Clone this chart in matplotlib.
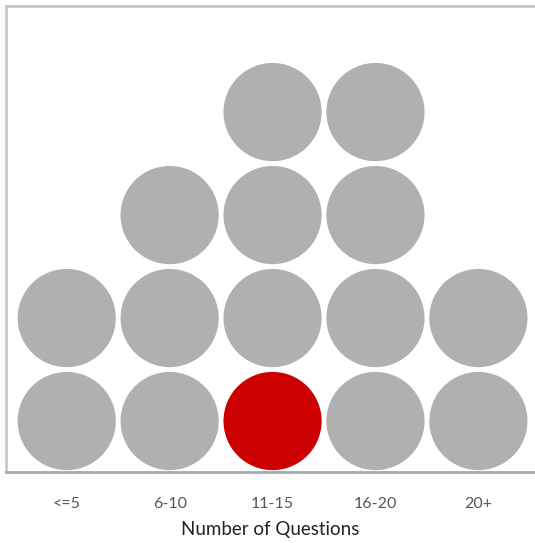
import matplotlib.pyplot as plt
from matplotlib.patches import Circle

categories = ["<=5", "6-10", "11-15", "16-20", "20+"]
counts = [2, 3, 4, 4, 2]
highlight = (2, 0)  # column, row of the red dot

plt.rcParams['font.family'] = ['Lato', 'DejaVu Sans']

fig = plt.figure(figsize=(5.35, 5.43), dpi=100)
ax = fig.add_axes([6/535, 1 - 472/543, 1 - 6/535, (472 - 6)/543])

for i, n in enumerate(counts):
    for j in range(n):
        col = "#cc0000" if (i, j) == highlight else "#b0b0b0"
        ax.add_patch(Circle((i, j), 0.485, facecolor=col, edgecolor="white", lw=1.2))

ax.set_xlim(-0.59, 4.55)
ax.set_ylim(-0.495, 4.03)
ax.set_xticks(range(len(categories)))
ax.set_xticklabels(categories, fontsize=11.5, color="#555555")
ax.tick_params(axis="x", length=0, pad=18)
ax.set_yticks([])
ax.set_xlabel("Number of Questions", fontsize=13.5, color="#222222", labelpad=7)
for s in ["left", "top", "bottom"]:
    ax.spines[s].set_color("#c8c8c8")
    ax.spines[s].set_linewidth(2)
ax.spines["bottom"].set_color("#a8a8a8")
ax.spines["right"].set_visible(False)

plt.savefig("out.png", dpi=100)
